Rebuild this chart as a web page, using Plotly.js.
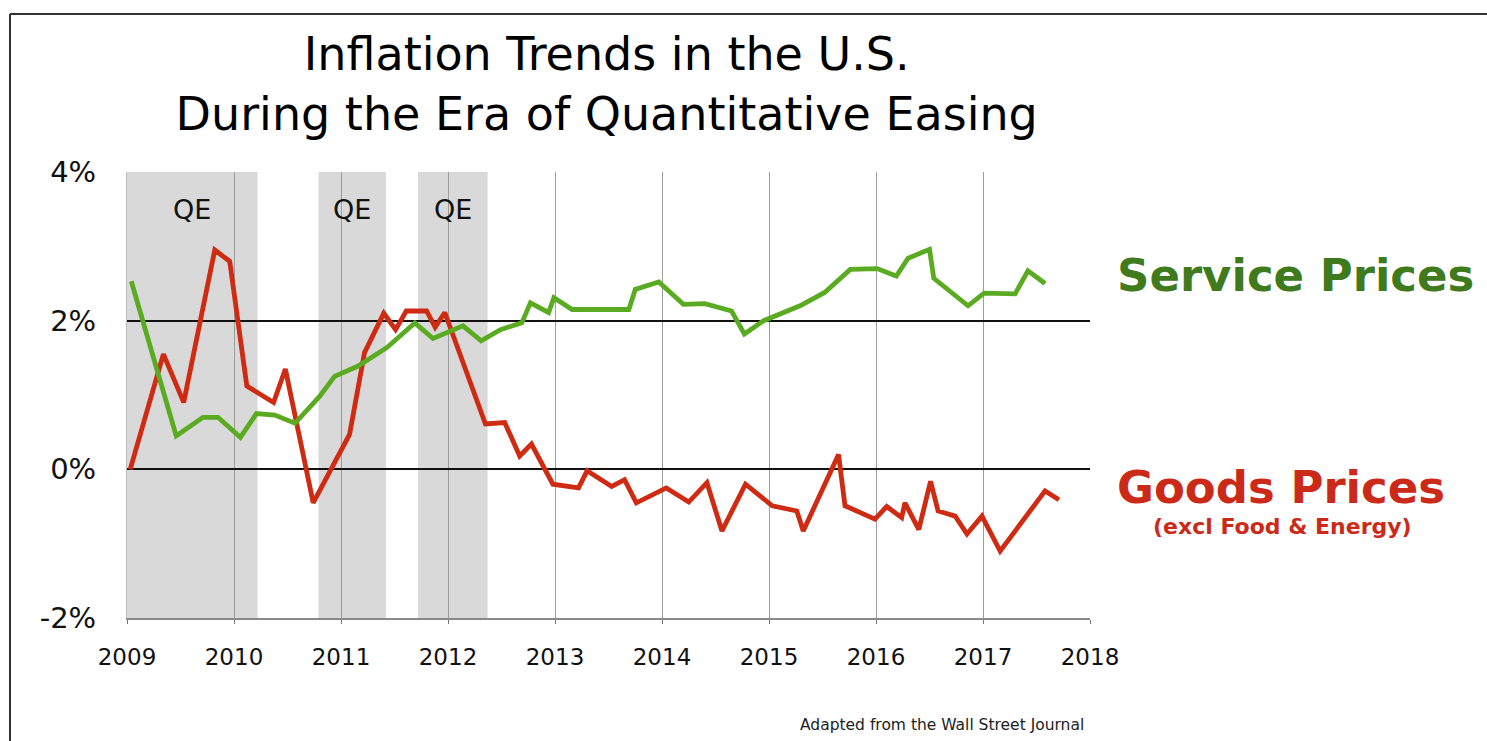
<!DOCTYPE html>
<html>
<head>
<meta charset="utf-8">
<script src="https://cdn.plot.ly/plotly-3.0.1.min.js"></script>
<style>
  html, body { margin: 0; padding: 0; background: #ffffff; }
  #chart { width: 1487px; height: 741px; }
</style>
</head>
<body>
<div id="chart"></div>
<script>
// ---- Data ----
const serviceX = [2009.04, 2009.46, 2009.71, 2009.85, 2010.06, 2010.21, 2010.38, 2010.57, 2010.80, 2010.94,
  2011.16, 2011.43, 2011.69, 2011.86, 2012.14, 2012.31, 2012.49, 2012.69, 2012.77, 2012.94,
  2012.99, 2013.16, 2013.69, 2013.75, 2013.97, 2014.20, 2014.40, 2014.65, 2014.77, 2014.95,
  2015.29, 2015.52, 2015.76, 2016.01, 2016.19, 2016.30, 2016.50, 2016.54, 2016.86, 2017.01,
  2017.30, 2017.42, 2017.58];
const serviceY = [2.53, 0.45, 0.70, 0.70, 0.43, 0.75, 0.73, 0.62, 0.98, 1.25,
  1.39, 1.64, 1.97, 1.76, 1.93, 1.73, 1.88, 1.97, 2.24, 2.11,
  2.31, 2.15, 2.15, 2.42, 2.52, 2.22, 2.23, 2.13, 1.82, 2.00,
  2.20, 2.38, 2.69, 2.70, 2.60, 2.84, 2.96, 2.57, 2.20, 2.37,
  2.36, 2.67, 2.50];

const goodsX = [2009.03, 2009.34, 2009.53, 2009.82, 2009.96, 2010.12, 2010.37, 2010.48, 2010.74, 2011.08,
  2011.22, 2011.40, 2011.51, 2011.61, 2011.80, 2011.88, 2011.97, 2012.35, 2012.53, 2012.67,
  2012.78, 2012.98, 2013.22, 2013.30, 2013.53, 2013.65, 2013.76, 2014.04, 2014.25, 2014.42,
  2014.56, 2014.78, 2015.03, 2015.26, 2015.32, 2015.65, 2015.71, 2015.99, 2016.10, 2016.24,
  2016.27, 2016.40, 2016.51, 2016.58, 2016.74, 2016.85, 2016.99, 2017.16, 2017.58, 2017.71];
const goodsY = [0.00, 1.55, 0.90, 2.95, 2.80, 1.12, 0.90, 1.35, -0.45, 0.47,
  1.57, 2.10, 1.88, 2.13, 2.13, 1.91, 2.11, 0.61, 0.63, 0.18,
  0.34, -0.20, -0.25, -0.02, -0.23, -0.14, -0.45, -0.25, -0.44, -0.18,
  -0.83, -0.20, -0.49, -0.56, -0.83, 0.20, -0.49, -0.67, -0.50, -0.65,
  -0.45, -0.81, -0.16, -0.56, -0.63, -0.87, -0.63, -1.10, -0.29, -0.41];

const qeStart = [2009.0, 2010.79, 2011.72];
const qeEnd   = [2010.22, 2011.42, 2012.37];
const qeLabels = ['QE', 'QE', 'QE'];
const qeLabelY = 3.5;

const yTickVals = [-2, 0, 2, 4];
const yTickText = ['-2%', '0%', '2%', '4%'];
const xTickVals = [2009, 2010, 2011, 2012, 2013, 2014, 2015, 2016, 2017, 2018];
const xTickText = ['2009', '2010', '2011', '2012', '2013', '2014', '2015', '2016', '2017', '2018'];

const titleLines = ['Inflation Trends in the U.S.', 'During the Era of Quantitative Easing'];
const serviceName = 'Service Prices';
const goodsName = 'Goods Prices';
const goodsSub = '(excl Food & Energy)';
const sourceNote = 'Adapted from the Wall Street Journal';

// ---- Styles ----
const FONT = 'DejaVu Sans, Verdana, sans-serif';
const GREEN_LINE = '#5bab22';
const RED_LINE = '#cf2a12';
const GREEN_TEXT = '#3f7a1d';
const RED_TEXT = '#cc2a18';

const traces = [
  { x: goodsX, y: goodsY, type: 'scatter', mode: 'lines', name: goodsName,
    line: { color: RED_LINE, width: 4.8 }, hoverinfo: 'x+y' },
  { x: serviceX, y: serviceY, type: 'scatter', mode: 'lines', name: serviceName,
    line: { color: GREEN_LINE, width: 4.8 }, hoverinfo: 'x+y' }
];

const shapes = [];
for (let i = 0; i < qeStart.length; i++) {
  shapes.push({ type: 'rect', xref: 'x', yref: 'paper', x0: qeStart[i], x1: qeEnd[i], y0: 0, y1: 1,
    fillcolor: '#d9d9d9', line: { width: 0 }, layer: 'below' });
}
// outer frame (top and left edges)
shapes.push({ type: 'line', xref: 'paper', yref: 'paper', x0: -0.1215, x1: 1.42, y0: 1.354, y1: 1.354,
  line: { color: '#333333', width: 2 } });
shapes.push({ type: 'line', xref: 'paper', yref: 'paper', x0: -0.1215, x1: -0.1215, y0: 1.354, y1: -0.3,
  line: { color: '#333333', width: 2 } });

const annotations = [];
for (let i = 0; i < qeStart.length; i++) {
  annotations.push({ x: (qeStart[i] + qeEnd[i]) / 2, y: qeLabelY, xref: 'x', yref: 'y',
    text: qeLabels[i], showarrow: false, font: { family: FONT, size: 27, color: '#111111' } });
}
annotations.push({ x: 1.026, y: 0.767, xref: 'paper', yref: 'paper', xanchor: 'left', yanchor: 'middle',
  text: '<b>' + serviceName + '</b>', showarrow: false, font: { family: FONT, size: 45, color: GREEN_TEXT } });
annotations.push({ x: 1.026, y: 0.2915, xref: 'paper', yref: 'paper', xanchor: 'left', yanchor: 'middle',
  text: '<b>' + goodsName + '</b>', showarrow: false, font: { family: FONT, size: 45, color: RED_TEXT } });
annotations.push({ x: 1.20, y: 0.206, xref: 'paper', yref: 'paper', xanchor: 'center', yanchor: 'middle',
  text: '<b>' + goodsSub + '</b>', showarrow: false, font: { family: FONT, size: 22, color: RED_TEXT } });
annotations.push({ x: 0.846, y: -0.24, xref: 'paper', yref: 'paper', xanchor: 'center', yanchor: 'middle',
  text: sourceNote, showarrow: false, font: { family: FONT, size: 15.5, color: '#222222' } });

const layout = {
  width: 1487, height: 741,
  margin: { l: 127, r: 397, t: 172, b: 123, pad: 0 },
  paper_bgcolor: '#ffffff', plot_bgcolor: '#ffffff',
  showlegend: false,
  title: { text: titleLines.join('<br>'), font: { family: FONT, size: 46, color: '#000000' },
    xref: 'container', yref: 'container', x: 0.408, xanchor: 'center', y: 0.905, yanchor: 'top' },
  xaxis: {
    range: [2009, 2018], tickvals: xTickVals, ticktext: xTickText,
    showgrid: true, gridcolor: '#9c9c9c', gridwidth: 1,
    zeroline: false, showline: true, linecolor: '#8a8a8a', linewidth: 2,
    ticks: 'outside', ticklen: 4, tickcolor: '#777777', tickwidth: 1,
    ticklabelstandoff: 13,
    tickfont: { family: FONT, size: 23, color: '#111111' }, fixedrange: true
  },
  yaxis: {
    range: [-2, 4], tickvals: yTickVals, ticktext: yTickText,
    showgrid: true, gridcolor: '#111111', gridwidth: 2,
    zeroline: false, showline: true, linecolor: '#bdbdbd', linewidth: 1,
    ticks: '', ticklabelstandoff: 24,
    tickfont: { family: FONT, size: 29, color: '#111111' }, fixedrange: true
  },
  shapes: shapes,
  annotations: annotations
};

Plotly.newPlot('chart', traces, layout, { displayModeBar: false, staticPlot: true });
</script>
</body>
</html>
